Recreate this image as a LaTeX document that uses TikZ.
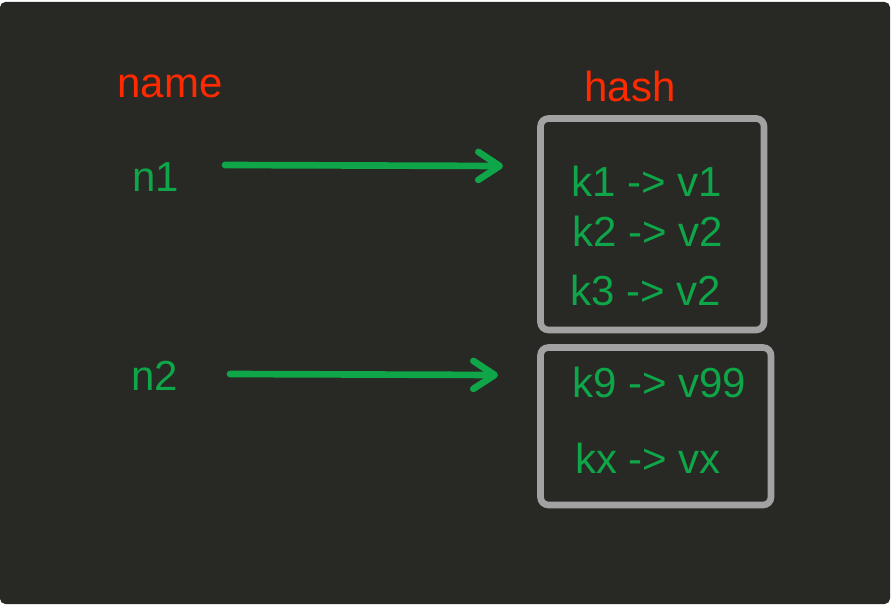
\documentclass[tikz,border=0pt]{standalone}
\usepackage{fontspec}
\setmainfont{Liberation Sans}
\usetikzlibrary{arrows.meta}
\definecolor{bgdark}{RGB}{40,40,36}
\definecolor{hgreen}{RGB}{14,166,72}
\definecolor{hred}{RGB}{255,42,0}
\definecolor{boxgray}{RGB}{162,162,162}
\begin{document}
\begin{tikzpicture}[x=0.75pt,y=-0.75pt,
  lbl/.style={inner sep=0pt,text=hred,font=\fontsize{31.5}{36}\selectfont},
  gtxt/.style={inner sep=0pt,text=hgreen,font=\fontsize{31.5}{36}\selectfont},
  hbox/.style={draw=boxgray,line width=5pt,rounded corners=6pt},
  conn/.style={draw=hgreen,line width=5pt,line cap=round,
    -{Straight Barb[length=16pt,width=21pt,line cap=round,line join=round]}}]
\useasboundingbox (0,0) rectangle (892,606);
\fill[white] (0,0) rectangle (892,606);
\fill[bgdark,rounded corners=4pt] (0,2) rectangle (890,604);
% labels
\node[lbl] (name) at (170,86) {name};
\node[lbl] (hash) at (630,86) {hash};
\node[gtxt] (n1) at (156,177) {n1};
\node[gtxt] (n2) at (155,376) {n2};
% boxes
\draw[hbox] (540.5,118.5) rectangle (764,330);
\draw[hbox] (540.5,347.5) rectangle (771,505);
\node[gtxt] (k1) at (647,181) {k1 -> v1};
\node[gtxt] (k2) at (648,231) {k2 -> v2};
\node[gtxt] (k3) at (646,290) {k3 -> v2};
\node[gtxt] (k9) at (659,382) {k9 -> v99};
\node[gtxt] (kx) at (648,458) {kx -> vx};
% connectors
\coordinate (a1s) at (225,165);
\coordinate (a1e) at (503,166);
\coordinate (a2s) at (230,374);
\coordinate (a2e) at (498,375);
\draw[conn] (a1s) -- (a1e);
\draw[conn] (a2s) -- (a2e);
\end{tikzpicture}
\end{document}
